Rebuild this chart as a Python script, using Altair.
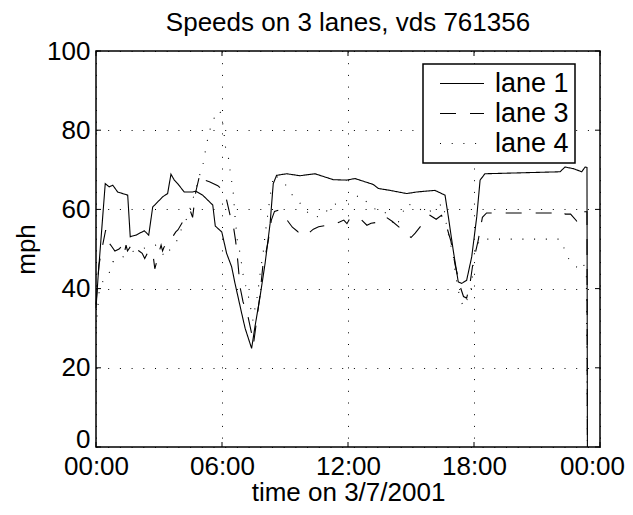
import altair as alt
import pandas as pd

# ---------------- data ----------------
lane_names = ["lane 1", "lane 3", "lane 4"]

lane1_hours = [0.0, 0.1, 0.44, 0.63, 0.8, 1.03, 1.51, 1.63, 1.9, 2.3, 2.51, 2.7, 2.94,
               3.18, 3.41, 3.57, 3.73, 3.89, 4.2, 4.6, 4.76, 5.08, 5.56, 5.68, 5.99,
               6.22, 6.46, 6.62, 6.94, 7.1, 7.41, 7.57, 7.81, 8.05, 8.29, 8.44, 8.6,
               9.08, 9.71, 10.43, 11.3, 11.94, 12.33, 13.2, 13.44, 14.0, 14.8, 15.27,
               16.14, 16.62, 16.78, 17.01, 17.25, 17.41, 17.65, 17.89, 18.13, 18.29,
               18.52, 22.1, 22.33, 22.73, 23.13, 23.29, 23.38, 23.4]
lane1_mph = [35, 43, 66.5, 65.7, 66.1, 64.4, 63.6, 53.1, 53.5, 54.6, 53.5, 60.6, 61.9,
             63.2, 64.0, 68.9, 67.4, 66.5, 64.4, 64.4, 64.6, 63.6, 61.1, 55.8, 54.3,
             48.9, 45.5, 41.3, 33.7, 30.0, 24.9, 30.4, 37.9, 46.3, 56.4, 66.5, 68.6,
             69.0, 68.5, 69.0, 67.5, 67.4, 67.8, 66.3, 65.3, 64.8, 64.0, 64.4,
             64.8, 63.6, 58.1, 49.7, 41.7, 41.3, 42.1, 48.0, 58.1, 67.4,
             69.0, 69.5, 70.7, 70.3, 69.5, 70.7, 70.6, 0]

lane3_hours = [0.0, 0.14, 0.3, 0.46, 0.55, 0.7, 0.9, 1.1, 1.27, 1.35, 1.43, 1.5, 1.75,
               1.9, 2.05, 2.2, 2.32, 2.52, 2.73, 2.8, 2.9, 3.03, 3.1, 3.17, 3.24, 3.5,
               3.7, 3.8, 3.9, 4.2, 4.5, 4.6, 4.75, 4.95, 5.1, 5.4, 5.8, 6.0, 6.15, 6.3,
               6.45, 6.55, 6.65, 6.75, 6.86, 7.0, 7.24, 7.41, 7.5, 7.6, 7.8, 7.95, 8.05,
               8.2, 8.35, 8.5, 8.68, 8.9, 9.1, 9.35, 9.63, 9.8, 10.1, 10.35, 10.6, 11.0,
               11.3, 11.6, 11.8, 11.95, 12.1, 12.57, 12.9, 13.1, 13.6, 13.8, 14.1, 14.5,
               15.0, 15.2, 15.5, 15.9, 16.2, 16.45, 16.6, 16.7, 16.9, 17.1, 17.2, 17.35,
               17.5, 17.65, 17.8, 17.95, 18.2, 18.4, 18.6, 22.0, 22.2, 22.35, 22.6, 22.9,
               23.1, 23.25, 23.38, 23.4]
lane3_mph = [36, 46, 50.5, 54.8, 52, 51, 49.5, 50, 51, 49, 51, 49.5, 51.5,
             50, 49.5, 48.9, 47.6, 49.7, 48, 45, 47, 49.7, 51, 49.5, 50.5, 51.5,
             53.5, 54.3, 54.8, 57.5, 59.5, 58, 64.4, 69, 67.5, 67, 66, 65, 64, 60.5,
             57, 55.5, 52, 47, 40.4, 36.7, 32.9, 28.7, 26, 30, 38, 46, 48,
             52, 57.3, 59.5, 59.8, 58, 57.3, 55.5, 54.3, 54.9, 53.9, 55.0, 55.6, 56,
             56.2, 56.8, 57.3, 56.4, 57.8, 57.7, 56, 56.5, 56.9, 58.1, 57, 55.2,
             52.9, 54, 56, 58.5, 57.5, 58.5, 57, 55.6, 52, 46, 43.8, 40.4,
             38, 37.6, 40.9, 46.4, 52.2, 58, 59.1, 59.1, 59.5, 58.8, 58.8, 57,
             57, 59.4, 59.4, 0]

lane4_hours = [0.0, 0.15, 0.38, 0.62, 0.8, 1.03, 1.5, 1.97, 2.5, 2.83, 3.3, 3.55, 3.87,
               4.11, 4.35, 4.67, 4.95, 5.1, 5.2, 5.3, 5.43, 5.62, 5.9, 6.03, 6.1, 6.14,
               6.3, 6.38, 6.46, 6.54, 6.62, 6.73, 6.86, 6.94, 7.02, 7.18, 7.3, 7.38,
               7.47, 7.57, 7.65, 7.78, 7.84, 7.94, 8.05, 8.29, 8.37, 8.48, 9.05, 9.32,
               9.67, 10.0, 10.38, 10.83, 11.2, 11.6, 12.1, 12.57, 13.2, 13.68, 14.3,
               14.8, 15.27, 15.75, 16.2, 16.54, 16.7, 16.86, 17.02, 17.1, 17.25, 17.35,
               17.49, 17.7, 17.89, 17.97, 18.05, 18.3, 22.1, 22.33, 22.57, 22.97, 23.2,
               23.35, 23.4]
lane4_mph = [30, 39.2, 42.6, 43.8, 46.8, 46.8, 49, 49.7, 50.5, 51, 48, 50.1, 52.2,
             55.6, 58, 63.6, 68.9, 71.6, 74.5, 77.3, 80.2, 83, 85, 81.8, 79.2, 76.2,
             73.3, 70.1, 67, 64, 58.1, 52.2, 48.9, 45.9, 43, 39.6, 37.1, 34.6,
             32, 35, 37.1, 42.1, 45.1, 48, 53.5, 63.2, 66.1, 68.9, 66.1, 63.8,
             61.9, 59.6, 58, 58.5, 61.1, 61.6, 62.5, 63.6, 60.2, 59.8, 55.6,
             61.5, 60.6, 59, 60.6, 61.5, 55.6, 51.8, 48, 44.2, 39.6, 37.5,
             35.4, 37.5, 40.4, 47.2, 49.7, 52.5, 52.5, 49.7, 46.8, 45.1, 46.4,
             44, 0]

y_ticks = [0, 20, 40, 60, 80, 100]
x_ticks = [0, 6, 12, 18, 24]
x_tick_labels = ["00:00", "06:00", "12:00", "18:00", "00:00"]

title_text = "Speeds on 3 lanes, vds 761356"
x_title = "time on 3/7/2001"
y_title = "mph"

# ---------------- build tables ----------------
rows = []
for name, hs, vs in [("lane 1", lane1_hours, lane1_mph),
                     ("lane 3", lane3_hours, lane3_mph),
                     ("lane 4", lane4_hours, lane4_mph)]:
    for h, v in zip(hs, vs):
        rows.append({"lane": name, "hour": h, "mph": v})
df = pd.DataFrame(rows)
ytick_df = pd.DataFrame({"mph": y_ticks})
xtick_df = pd.DataFrame({"hour": x_ticks})

FONT = "Liberation Sans, Arial, Helvetica, sans-serif"
W, H = 504, 396
GRID_DASH = [1, 10.7]

x_scale = alt.Scale(domain=[0, 24], nice=False, zero=False)
y_scale = alt.Scale(domain=[0, 100], nice=False, zero=False)

label_js = "[" + ",".join("'%s'" % s for s in x_tick_labels) + "]"
x_axis = alt.Axis(values=x_ticks, labelExpr=label_js + "[round(datum.value / 6)]",
                  grid=True, gridColor="black", gridDash=GRID_DASH, gridOpacity=1,
                  gridWidth=1, ticks=False, domain=False, labelPadding=6,
                  labelOffset={"condition": {"test": "datum.value == 24", "value": -8},
                               "value": 0},
                  labelFontSize=26, labelFont=FONT, labelColor="black",
                  title=x_title, titleFontSize=26, titleFont=FONT,
                  titleFontWeight="normal", titleColor="black",
                  titleBaseline="alphabetic", titleY=53, titleX=W / 2,
                  titleAlign="center", labelFlush=False, labelOverlap=False)
y_axis = alt.Axis(values=y_ticks, grid=True, gridColor="black", gridDash=GRID_DASH,
                  gridOpacity=1, gridWidth=1, ticks=False, domain=False,
                  labelPadding=6, labelFontSize=26, labelFont=FONT,
                  labelColor="black",
                  labelBaseline={"condition": {"test": "datum.value == 0",
                                               "value": "alphabetic"},
                                 "value": "middle"},
                  title=y_title, titleFontSize=26,
                  titleFont=FONT, titleFontWeight="normal", titleColor="black",
                  titleAngle=270, titleBaseline="alphabetic", titleX=-62,
                  titleY=H / 2, titleAlign="center", labelFlush=False,
                  labelOverlap=False)

lines = alt.Chart(df).mark_line(color="black", strokeWidth=1.1, strokeCap="butt").encode(
    x=alt.X("hour:Q", scale=x_scale, axis=x_axis),
    y=alt.Y("mph:Q", scale=y_scale, axis=y_axis),
    strokeDash=alt.StrokeDash(
        "lane:N",
        scale=alt.Scale(domain=lane_names, range=[[1, 0], [16, 14], [1, 10.7]]),
        legend=alt.Legend(
            title=None, orient="none", legendX=327, legendY=13,
            direction="vertical", fillColor="white", strokeColor="black",
            padding=6, symbolType="stroke", symbolSize=1936,
            symbolStrokeWidth=1.1, symbolStrokeColor="black", symbolOffset=10,
            labelOffset=10, labelFontSize=27, labelFont=FONT, labelColor="black",
            clipHeight=27, rowPadding=2,
            labelExpr="datum.label + '\u00a0\u00a0'",
        ),
    ),
)

tick_len = 5
left_ticks = alt.Chart(ytick_df).mark_rule(color="black", strokeWidth=1).encode(
    y=alt.Y("mph:Q", scale=y_scale, axis=y_axis), x=alt.value(0), x2=alt.value(tick_len))
right_ticks = alt.Chart(ytick_df).mark_rule(color="black", strokeWidth=1).encode(
    y=alt.Y("mph:Q", scale=y_scale, axis=y_axis), x=alt.value(W - tick_len), x2=alt.value(W))
bottom_ticks = alt.Chart(xtick_df).mark_rule(color="black", strokeWidth=1).encode(
    x=alt.X("hour:Q", scale=x_scale, axis=x_axis), y=alt.value(H - tick_len), y2=alt.value(H))
top_ticks = alt.Chart(xtick_df).mark_rule(color="black", strokeWidth=1).encode(
    x=alt.X("hour:Q", scale=x_scale, axis=x_axis), y=alt.value(0), y2=alt.value(tick_len))

chart = alt.layer(lines, left_ticks, right_ticks, bottom_ticks, top_ticks).properties(
    width=W, height=H,
    background="white",
    autosize=alt.AutoSizeParams(type="none"),
    padding={"left": 88, "top": 43, "right": 25, "bottom": 60},
    title=alt.TitleParams(title_text, fontSize=26, font=FONT, fontWeight="normal",
                          color="black", anchor="middle", frame="group",
                          baseline="alphabetic", offset=7, dy=26),
).configure_view(
    stroke="black", strokeWidth=1.5, fill="white"
).configure_legend(
    strokeWidth=1.5
)

chart.save("out.html", embed_options={"renderer": "svg", "actions": False})
